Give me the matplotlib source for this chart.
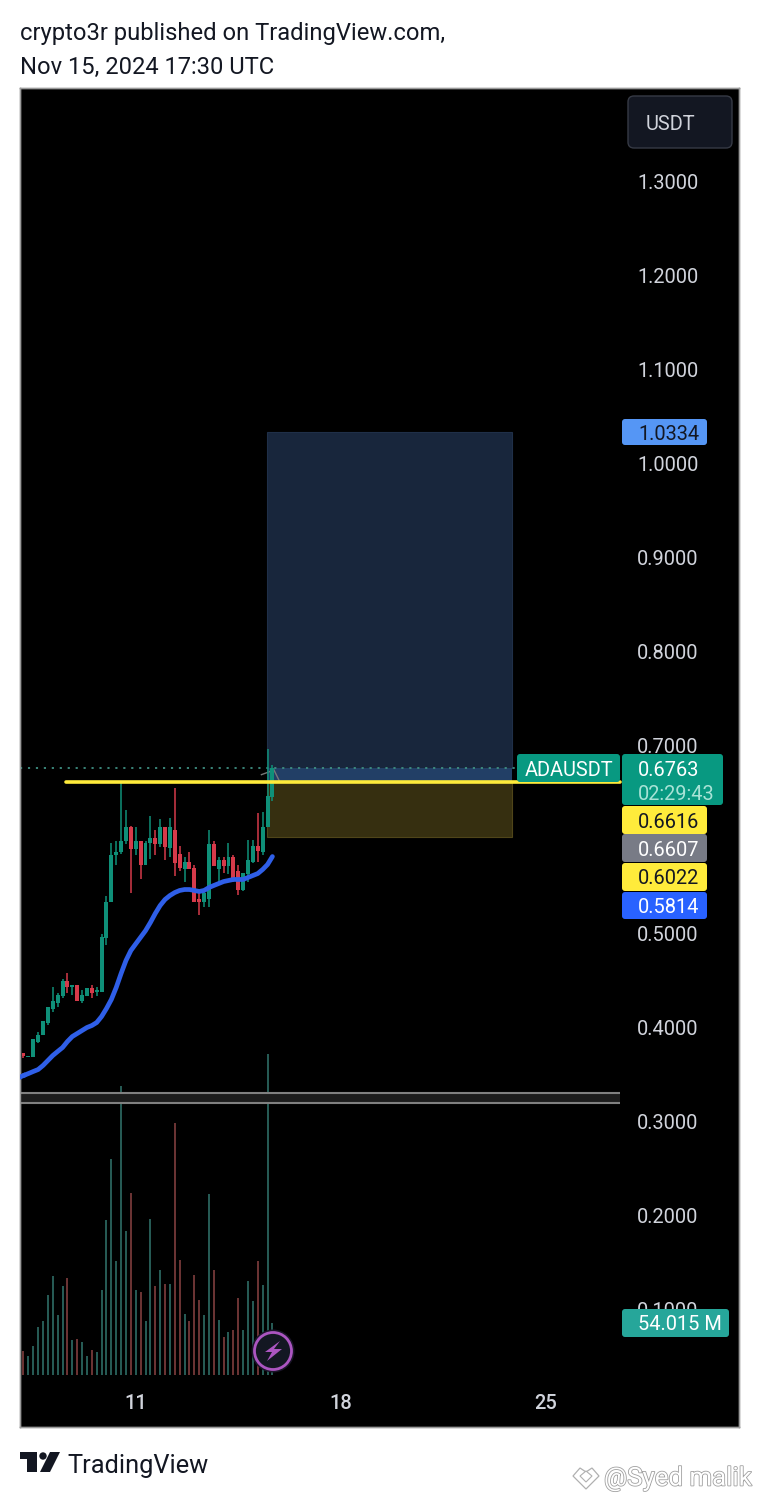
import numpy as np
import matplotlib
matplotlib.use('Agg')
import matplotlib.pyplot as plt
import matplotlib.patheffects as pe
from matplotlib.patches import Circle, FancyBboxPatch, Polygon, Rectangle

plt.rcParams['font.family'] = ['Roboto', 'DejaVu Sans']

# 4h candles
opens = [.3734, .3681, .3681, .3851, .3915, .4053, .4192, .4266, .4330, .4500, .4436, .4447, .4277,
         .4340, .4415, .4383, .4383, .4957, .5330, .5830, .5872, .5979, .6138, .5894, .5979, .5724,
         .5968, .6011, .5957, .6128, .5915, .6106, .5851, .5681, .5766, .5702, .5362, .5330, .5362,
         .5947, .5691, .5777, .5713, .5819, .5670, .5468, .5628, .5766, .5936, .5872, .6128, .6457]
highs = [.3734, .3702, .3883, .3947, .4064, .4213, .4436, .4372, .4511, .4585, .4457, .4447, .4394,
         .4415, .4447, .4426, .4990, .5404, .5968, .5979, .6606, .6319, .6149, .6128, .5979, .5979,
         .6245, .6096, .6223, .6128, .6234, .6543, .5926, .5819, .5872, .5734, .5468, .5468, .6096,
         .5979, .5809, .5819, .5968, .5830, .5734, .5649, .6000, .6000, .6277, .6298, .6968, .6798]
lows = [.3676, .3681, .3681, .3840, .3915, .4032, .4170, .4213, .4319, .4372, .4351, .4277, .4266,
        .4340, .4309, .4330, .4383, .4883, .5330, .5734, .5851, .5957, .5436, .5840, .5575, .5724,
        .5798, .5830, .5925, .5777, .5819, .5607, .5660, .5553, .5691, .5340, .5192, .5277, .5287,
        .5713, .5553, .5639, .5628, .5543, .5415, .5447, .5553, .5755, .5766, .5830, .6128, .6415]
closes = [.3697, .3702, .3883, .3925, .4064, .4213, .4277, .4351, .4500, .4426, .4457, .4277, .4351,
          .4415, .4362, .4404, .4968, .5330, .5840, .5872, .5989, .6128, .5904, .5979, .5724, .5968,
          .6011, .5957, .6128, .5925, .6128, .5755, .5702, .5766, .5691, .5340, .5340, .5426, .5947,
          .5713, .5777, .5713, .5819, .5575, .5468, .5649, .5787, .5936, .5883, .6138, .6468, .6763]
volumes = [24.2, 19.0, 29.4, 49.2, 55.4, 82.4, 102.9, 62.3, 91.8, 100.1, 36.4, 37.4, 34.3, 19.0, 26.0,
           23.9, 87.6, 161.0, 224.4, 117.7, 299.5, 149.6, 188.7, 88.3, 85.5, 56.1, 162.1, 91.8, 108.4,
           94.5, 94.5, 261.5, 118.8, 63.4, 55.4, 103.9, 77.9, 61.6, 188.0, 108.4, 57.1, 38.8, 44.7,
           46.1, 79.3, 46.1, 97.0, 76.2, 117.7, 92.8, 333.5, 54.015]
ma_values = [.3489, .3510, .3532, .3553, .3596, .3649, .3702, .3745, .3787, .3851, .3904, .3936, .3968,
             .4000, .4021, .4053, .4117, .4202, .4298, .4426, .4575, .4713, .4819, .4890, .4960, .5030,
             .5117, .5213, .5298, .5362, .5404, .5436, .5458, .5468, .5468, .5458, .5447, .5458, .5489,
             .5511, .5532, .5553, .5564, .5575, .5575, .5575, .5596, .5617, .5638, .5681, .5734, .5819]
first_day = 7.175

price_ticks = [0.1, 0.2, 0.3, 0.4, 0.5, 0.6, 0.7, 0.8, 0.9, 1.0, 1.1, 1.2, 1.3]
day_ticks = [11, 18, 25]

last_price = 0.6763
entry_price = 0.6616
target_price = 1.0334
stop_price = 0.6022
range_high = 0.3298
range_low = 0.3202
position_start = 15.473
position_end = 23.839
entry_line_start = 8.61
levels_end = 27.53

GREEN = '#0f9079'
RED = '#d63a4a'
TICK = '#d1d4dc'

W, H = 760, 1498
fig = plt.figure(figsize=(W / 100, H / 100), dpi=100, facecolor='white')
rect = [20 / W, 1 - 1427 / H, 719 / W, 1339 / H]

days = first_day + np.arange(len(opens)) / 6
opens = np.array(opens)
closes = np.array(closes)
up = closes >= opens
xlim = (7.056, 31.607)

# volume pane sits underneath, its own scale
ax_vol = fig.add_axes(rect, facecolor='black')
ax_vol.bar(days, volumes, width=0.068, color=np.where(up, '#265a54', '#6a3333'))
ax_vol.set_xlim(xlim)
ax_vol.set_ylim(-54.5, 1337)
ax_vol.set_xticks([])
ax_vol.set_yticks([])

ax = fig.add_axes(rect)
ax.patch.set_visible(False)
ax.set_xlim(xlim)
ax.set_ylim(-0.025, 1.3995)

# long position tool
ax.add_patch(Rectangle((position_start, last_price), position_end - position_start, target_price - last_price,
                       fc='#18263c', ec='#1f2f48', lw=0.8, zorder=1))
ax.add_patch(Rectangle((position_start, entry_price), position_end - position_start, last_price - entry_price,
                       fc='#223f66', ec='none', zorder=1))
ax.add_patch(Rectangle((position_start, stop_price), position_end - position_start, entry_price - stop_price,
                       fc='#362f10', ec='#4f4519', lw=0.8, zorder=1))

# range box
ax.add_patch(Rectangle((xlim[0], range_low), levels_end - xlim[0], range_high - range_low,
                       fc='#1c1c1c', ec='none', zorder=1))
ax.hlines([range_low, range_high], xlim[0], levels_end, color='#808080', lw=1.5, zorder=1.5)

ax.hlines(last_price, xlim[0], levels_end, color='#3f8f82', lw=1.3, linestyles=(0, (1.2, 3.2)), zorder=2)

# candles
colors = np.where(up, GREEN, RED)
ax.vlines(days, lows, highs, color=colors, lw=1.1, zorder=3)
ax.bar(days, np.abs(closes - opens), bottom=np.minimum(opens, closes), width=0.135, color=colors, zorder=3)

ax.plot(days, ma_values, color='#2f5fe8', lw=3.4, solid_capstyle='round', zorder=4)
ax.plot([first_day - 0.15, first_day], [0.3468, ma_values[0]], color='#2f5fe8', lw=3.4, zorder=4)

ax.plot([entry_line_start, levels_end], [entry_price, entry_price], color='#ffeb3b', lw=2.6,
        solid_capstyle='round', zorder=5)

# small caret at the last candle
ax.plot([15.30, 15.58], [0.6690, 0.6722], color='#777777', lw=1, zorder=2.5)
ax.plot([15.72, 15.90], [0.6745, 0.6630], color='#777777', lw=1, zorder=2.5)

ax.yaxis.tick_right()
ax.set_yticks(price_ticks)
ax.set_yticklabels([f'{p:.4f}' for p in price_ticks])
ax.tick_params(axis='y', length=0, pad=-73.5, labelsize=14.4, labelcolor=TICK)
ax.set_xticks(day_ticks)
ax.tick_params(axis='x', length=0, pad=-24, labelsize=14.4, labelcolor=TICK)
for label in ax.get_xticklabels():
    label.set_fontweight('medium')
for spine in list(ax.spines.values()) + list(ax_vol.spines.values()):
    spine.set_color('#9a9a9a')
    spine.set_linewidth(1)

# overlay in pixel space for badges and branding
ov = fig.add_axes([0, 0, 1, 1])
ov.patch.set_visible(False)
ov.set_xlim(0, W)
ov.set_ylim(H, 0)
ov.axis('off')


def badge(x0, x1, y0, y1, color, label, text_color, text_x=638, text_y=None):
    ov.add_patch(FancyBboxPatch((x0 + 3, y0 + 3), x1 - x0 - 6, y1 - y0 - 6, boxstyle='round,pad=3,rounding_size=3',
                                fc=color, ec='none'))
    ov.text(text_x, (y0 + y1) / 2 if text_y is None else text_y, label, color=text_color, fontsize=14.4,
            ha='left', va='center_baseline')


badge(517, 620, 754, 782, '#089981', 'ADAUSDT', 'white', text_x=525, text_y=768)
badge(622, 723, 754, 805, '#089981', '0.6763', 'white', text_y=769)
ov.text(638, 792, '02:29:43', color='#a8e3d6', fontsize=14.4, ha='left', va='center_baseline')
badge(622, 707, 806, 834, '#ffeb3b', '0.6616', '#131722')
badge(622, 707, 834, 862, '#787b86', '0.6607', 'white')
badge(622, 707, 863, 891, '#ffeb3b', '0.6022', '#131722')
badge(622, 707, 892, 919, '#2962ff', '0.5814', 'white')
badge(622, 707, 419, 445, '#5596f5', '1.0334', '#131722')
badge(622, 729, 1309, 1337, '#26a69a', '54.015 M', 'white')

ov.add_patch(FancyBboxPatch((632, 100), 96, 44, boxstyle='round,pad=4,rounding_size=6', fc='#131722', ec='#363a45', lw=1))
ov.text(646, 122, 'USDT', color=TICK, fontsize=14.4, ha='left', va='center_baseline')

# lightning button
ov.add_patch(Circle((273, 1351), 21.5, fc='#1a1528', ec='none'))
ov.add_patch(Circle((273, 1351), 18.5, fc='#131722', ec='#ab55c0', lw=2))
ov.add_patch(Polygon([(280, 1341), (265, 1352), (272, 1352), (267, 1361), (282, 1349), (274, 1349)], fc='#ab55c0', ec='none'))

# header and footer
ov.text(20, 31, 'crypto3r published on TradingView.com,', color='#131722', fontsize=17.15, va='center_baseline')
ov.text(20, 65, 'Nov 15, 2024 17:30 UTC', color='#131722', fontsize=17.15, va='center_baseline')

ov.add_patch(Polygon([(20, 1452), (37, 1452), (37, 1472), (27, 1472), (27, 1459), (20, 1459)], fc='#131722', ec='none'))
ov.add_patch(Circle((43, 1456), 3.7, fc='#131722', ec='none'))
ov.add_patch(Polygon([(50, 1452), (60, 1452), (50, 1472), (40, 1472)], fc='#131722', ec='none'))
ov.text(67, 1464, 'TradingView', color='#131722', fontsize=18.3, va='center_baseline')

ov.text(604, 1476, '@Syed malik', color='white', fontsize=18.6, va='center_baseline',
        path_effects=[pe.withStroke(linewidth=1.2, foreground='#a0a0a0')])
ov.add_patch(Polygon([(573, 1476), (580, 1468), (586, 1472), (592, 1468), (599, 1476), (586, 1489)], fc='white', ec='#b0b0b0', lw=0.9))
ov.add_patch(Polygon([(580, 1476), (586, 1471), (592, 1476), (586, 1482)], fc='white', ec='#b0b0b0', lw=0.8))

fig.savefig('out.png', dpi=100)
